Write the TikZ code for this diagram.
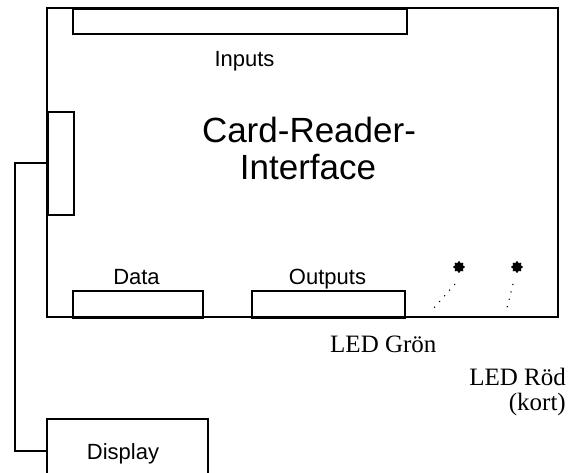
\documentclass[tikz,border=0pt]{standalone}
\usepackage{fontspec}
\setmainfont{Liberation Serif}
\setsansfont{Liberation Sans}
\usetikzlibrary{shapes.geometric}
\begin{document}
\begin{tikzpicture}[x=1pt,y=-1pt,
  box/.style={draw,line width=2pt},
  conn/.style={draw,line width=2pt,minimum width=#1,inner sep=0pt,anchor=north west},
  lbl/.style={font=\sffamily\fontsize{22}{26}\selectfont,anchor=base,inner sep=0pt},
  ttl/.style={font=\sffamily\fontsize{35}{40}\selectfont,anchor=base,inner sep=0pt},
  ledlbl/.style={font=\fontsize{25}{25}\selectfont,inner sep=0pt},
  led/.style={star,star points=8,star point ratio=1.45,fill=black,draw=black,line width=0.8pt,line join=round,inner sep=0pt,minimum size=11pt},
  wire/.style={line width=1.1pt,dash pattern=on 1.1pt off 6.5pt}]
\useasboundingbox (0,0) rectangle (571,473);
\fill[white] (0,0) rectangle (571,473);
\draw[box] (47,8) rectangle (558,317);
% connectors
\node[conn=334pt,minimum height=25pt] (inp) at (72,8) {};
\node[conn=26pt,minimum height=103pt] (lconn) at (47,111) {};
\node[conn=130pt,minimum height=27pt] (data) at (72,290) {};
\node[conn=153pt,minimum height=27pt] (outp) at (251,290) {};
\node[conn=161pt,minimum height=64pt] (disp) at (46,418) {};
% labels
\node[lbl] (tinp) at (244.5,67) {Inputs};
\node[ttl] (title1) at (309,143) {Card-Reader-};
\node[ttl] (title2) at (308,180) {Interface};
\node[lbl] (tdata) at (136.5,285) {Data};
\node[lbl] (toutp) at (327.5,285) {Outputs};
\node[lbl] (tdisp) at (123,459) {Display};
% LEDs
\node[led] (ledg) at (459,267) {};
\node[led] (ledr) at (517,267) {};
\coordinate (g1) at (455,284);
\coordinate (g2) at (433,309);
\coordinate (r1) at (513,284);
\coordinate (r2) at (507,308);
\draw[wire] (g1) -- (g2);
\draw[wire] (r1) -- (r2);
\node[ledlbl,anchor=base west] (tg) at (330,353) {LED Grön};
\node[ledlbl,anchor=base east] (tr) at (566,385) {LED Röd};
\node[ledlbl,anchor=base east] (tk) at (566,410) {(kort)};
% display wire
\draw[line width=2pt] (lconn.west) -- ++(-32,0) |- (disp.west);
\end{tikzpicture}
\end{document}
